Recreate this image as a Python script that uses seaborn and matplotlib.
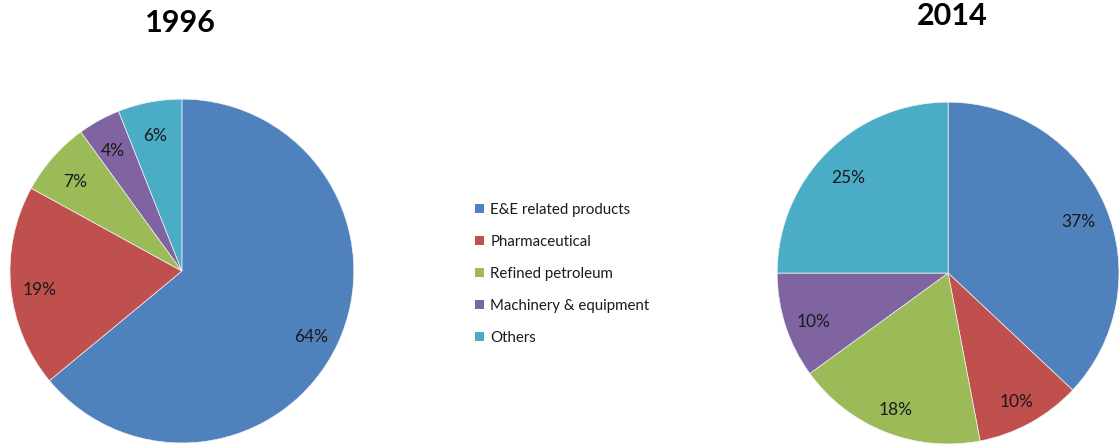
import matplotlib
matplotlib.use("Agg")
import matplotlib.pyplot as plt
from matplotlib.patches import Patch
import seaborn as sns

# Export composition by product group
categories = ["E&E related products", "Pharmaceutical", "Refined petroleum",
              "Machinery & equipment", "Others"]
share_1996 = [64, 19, 7, 4, 6]
share_2014 = [37, 10, 18, 10, 25]
years = ["1996", "2014"]

sns.set_theme(style="white")
plt.rcParams["font.family"] = ["Lato", "DejaVu Sans"]

palette = sns.color_palette(["#4F81BD", "#C0504D", "#9BBB59", "#8064A2", "#4BACC6"])

fig = plt.figure(figsize=(11.2, 4.48), dpi=100)
fig.patch.set_facecolor("white")

ax_left = fig.add_axes([0.0089, 0.011, 0.307, 0.768])
ax_right = fig.add_axes([0.6938, 0.009, 0.3054, 0.763])


def draw_pie(ax, values):
    _, _, autotexts = ax.pie(
        values, colors=palette, startangle=90, counterclock=False,
        autopct=lambda p: f"{p:.0f}%", pctdistance=0.83,
        wedgeprops=dict(linewidth=0.5, edgecolor="#f2f2f2"),
        textprops=dict(fontsize=12.5, color="#1a1a1a"))
    # nudge the percentage labels slightly downward
    for t in autotexts:
        x, y = t.get_position()
        t.set_position((x, y - 0.03))
    ax.set_xlim(-1, 1)
    ax.set_ylim(-1, 1)
    ax.set_aspect("equal")
    ax.axis("off")


draw_pie(ax_left, share_1996)
draw_pie(ax_right, share_2014)

fig.text(180 / 1120, 1 - 23 / 448, years[0], ha="center", va="center",
         fontsize=22, fontweight="bold", color="black")
fig.text(952 / 1120, 1 - 16 / 448, years[1], ha="center", va="center",
         fontsize=22, fontweight="bold", color="black")

handles = [Patch(facecolor=c, edgecolor="none") for c in palette]
fig.legend(handles, categories, loc="center left",
           bbox_to_anchor=(461 / 1120, 1 - 274 / 448), frameon=False,
           fontsize=10.8, labelspacing=1.2, handlelength=0.6,
           handleheight=0.6, handletextpad=0.45, labelcolor="#1a1a1a")

fig.savefig("out.png", dpi=100, facecolor="white")
